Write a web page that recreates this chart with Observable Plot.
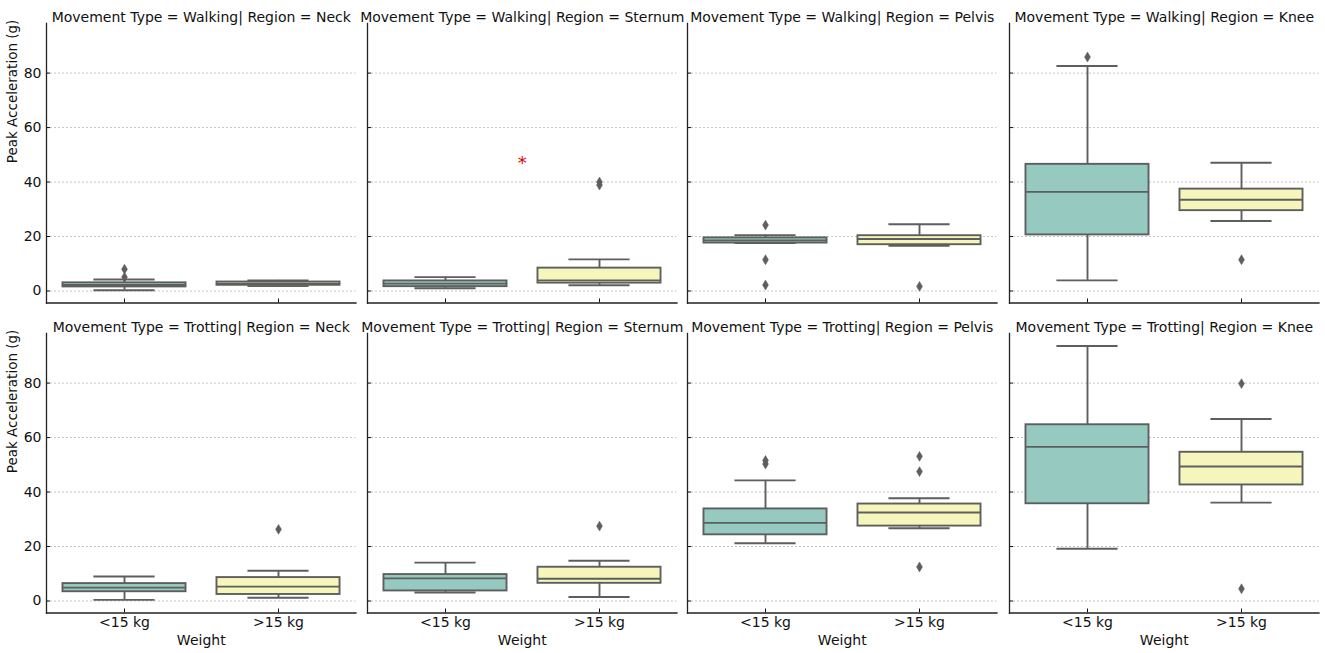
<!DOCTYPE html>
<html><head><meta charset="utf-8">
<script src="https://cdn.jsdelivr.net/npm/d3@7"></script>
<script src="https://cdn.jsdelivr.net/npm/@observablehq/plot@0.6"></script>
<style>
body{margin:0;background:#fff;}
#chart{position:relative;width:1325px;height:653px;overflow:hidden;background:#fff;}
#chart svg{position:absolute;}
</style></head><body><div id="chart"></div>
<script>
// ---- data ----
const movements = ["Walking", "Trotting"];
const regions = ["Neck", "Sternum", "Pelvis", "Knee"];
const weights = ["<15 kg", ">15 kg"];
const yTicks = [0, 20, 40, 60, 80];
// order: for each movement, for each region, for each weight
const whiskerLow  = [0.3, 1.8, 1.0, 2.1, 17.6, 16.6, 3.9, 25.7,   0.4, 1.2, 3.1, 1.5, 21.2, 26.7, 19.2, 36.1];
const q1          = [1.5, 2.1, 1.6, 2.9, 17.6, 17.0, 20.6, 29.5,  3.4, 2.4, 3.7, 6.5, 24.3, 27.5, 35.7, 42.6];
const median      = [2.2, 2.7, 2.7, 3.9, 18.6, 19.1, 36.4, 33.5,  4.9, 5.3, 8.3, 8.2, 28.7, 32.5, 56.6, 49.4];
const q3          = [3.0, 3.3, 3.7, 8.4, 19.5, 20.3, 46.5, 37.4,  6.4, 8.6, 9.7, 12.4, 33.8, 35.6, 64.7, 54.6];
const whiskerHigh = [4.2, 3.9, 5.1, 11.6, 20.5, 24.5, 82.6, 47.1, 9.0, 11.1, 14.1, 14.8, 44.3, 37.7, 93.6, 66.8];
const outliers = [[8.0, 5.1], [], [], [40.0, 38.9], [24.2, 11.5, 2.2], [1.7], [85.9], [11.5],
                  [], [26.3], [], [27.5], [51.6, 50.3], [53.1, 47.5, 12.5], [], [79.8, 4.5]];
const boxColors = ["#96cac1", "#f6f6bc"];
const annotation = [{movement: "Walking", region: "Sternum", text: "*", y: 47.7}];

// ---- build tables ----
const boxes = [], outRows = [];
let k = 0;
for (const movement of movements) for (const region of regions) for (const weight of weights) {
  boxes.push({movement, region, weight, lo: whiskerLow[k], q1: q1[k], med: median[k], q3: q3[k], hi: whiskerHigh[k]});
  for (const v of outliers[k]) outRows.push({movement, region, weight, value: v});
  k++;
}

const thinDiamond = {
  draw(ctx, size) {
    const r = Math.sqrt(size / Math.PI);
    const h = r * 1.6, w = r * 0.95;
    ctx.moveTo(0, -h); ctx.lineTo(w, 0); ctx.lineTo(0, h); ctx.lineTo(-w, 0); ctx.closePath();
  }
};

const edge = "#5e5e5e";
const FW = 309.5, FH = 279.5;
const colLeft = [45.7, 366.7, 687.3, 1009.3];
const rowTop = [22.7, 332.7];
const mL = 50, mR = 8, mT = 26, mB = 44;
const chart = document.getElementById("chart");

movements.forEach((movement, mi) => {
  regions.forEach((region, ri) => {
    const rows = boxes.filter(d => d.movement === movement && d.region === region);
    const outs = outRows.filter(d => d.movement === movement && d.region === region);
    const ann = annotation.filter(d => d.movement === movement && d.region === region);
    const bw = FW / 2;
    const title = `Movement Type = ${movement}| Region = ${region}`;
    const line = {stroke: edge, strokeWidth: 1.9};
    const marks = [
      Plot.gridY(yTicks, {stroke: "#c4c4c4", strokeOpacity: 1, strokeDasharray: "2,2", strokeWidth: 1}),
      Plot.ruleX(rows, {x: "weight", y1: "q3", y2: "hi", ...line}),
      Plot.ruleX(rows, {x: "weight", y1: "lo", y2: "q1", ...line}),
      Plot.tickY(rows, {x: "weight", y: "hi", insetLeft: bw * 0.3, insetRight: bw * 0.3, ...line}),
      Plot.tickY(rows, {x: "weight", y: "lo", insetLeft: bw * 0.3, insetRight: bw * 0.3, ...line}),
      Plot.barY(rows, {x: "weight", y1: "q1", y2: "q3", fill: "weight", insetLeft: bw * 0.1, insetRight: bw * 0.1, ...line}),
      Plot.tickY(rows, {x: "weight", y: "med", insetLeft: bw * 0.1, insetRight: bw * 0.1, ...line}),
      Plot.dot(outs, {x: "weight", y: "value", symbol: thinDiamond, r: 3.1, fill: edge, stroke: edge, strokeWidth: 0.5}),
      Plot.text(ann, {y: "y", text: "text", frameAnchor: "middle", fill: "#e00000", fontSize: 18, dy: 2}),
      Plot.axisY(yTicks, {tickSize: -4, tickPadding: 9, tickFormat: ri === 0 ? (d => d) : (() => ""), label: null, fontSize: 14, color: "#111"}),
      Plot.axisX(weights, {tickSize: -4, tickPadding: 8, tickFormat: mi === 1 ? (d => d) : (() => ""), label: null, fontSize: 14, color: "#111"}),
      Plot.frame({anchor: "left", stroke: "#222", strokeWidth: 1.3}),
      Plot.frame({anchor: "bottom", stroke: "#222", strokeWidth: 1.3}),
      Plot.text([title], {frameAnchor: "top", dy: -11, fontSize: 14, fill: "#111"})
    ];
    if (ri === 0) marks.push(Plot.text(["Peak Acceleration (g)"], {frameAnchor: "left", rotate: -90, dx: -34, fontSize: 13.5, fill: "#111"}));
    if (mi === 1) marks.push(Plot.text(["Weight"], {frameAnchor: "bottom", dy: 32, fontSize: 14, fill: "#111"}));
    const svg = Plot.plot({
      width: mL + FW + mR,
      height: mT + FH + mB,
      marginLeft: mL, marginRight: mR, marginTop: mT, marginBottom: mB,
      style: {fontFamily: "DejaVu Sans", background: "transparent", overflow: "visible"},
      x: {type: "band", domain: weights, padding: 0, axis: null},
      y: {domain: [-4.4, 98.2], axis: null},
      color: {domain: weights, range: boxColors},
      marks
    });
    svg.style.left = (colLeft[ri] - mL) + "px";
    svg.style.top = (rowTop[mi] - mT) + "px";
    chart.appendChild(svg);
  });
});
</script></body></html>
